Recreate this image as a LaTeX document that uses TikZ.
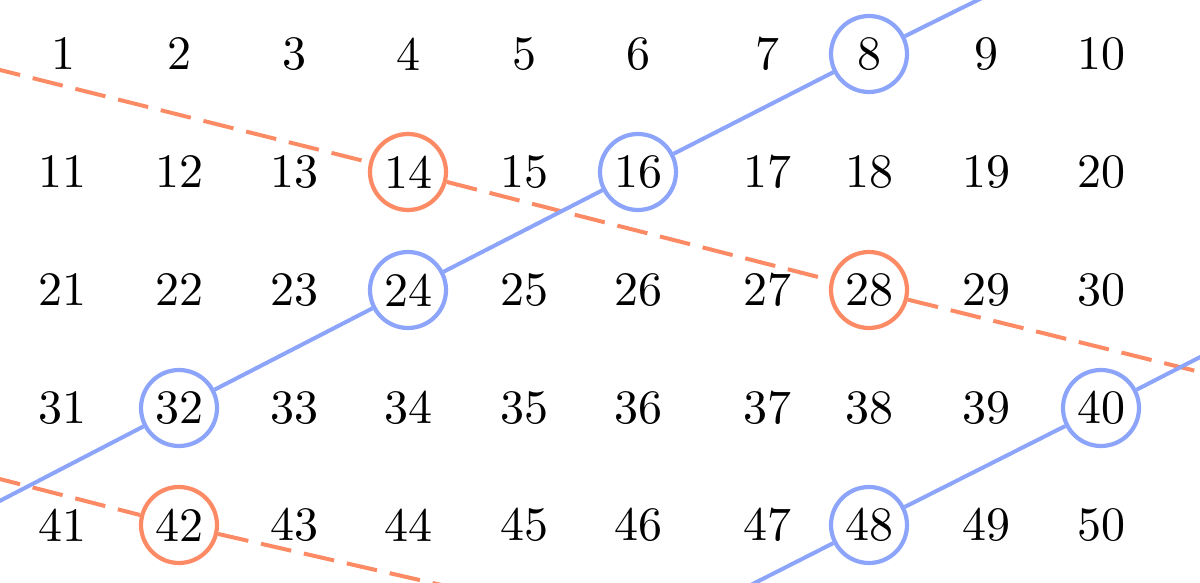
\documentclass[tikz,border=0pt]{standalone}
\definecolor{myblue}{RGB}{140,164,250}
\definecolor{myorange}{RGB}{252,138,100}
\font\numfont="[lmroman10-regular]" at 24pt
\begin{document}
\begin{tikzpicture}[x=0.5pt,y=-0.5pt,
  num/.style={inner sep=0pt, font=\numfont},
  ring/.style={num, circle, line width=2.1pt, minimum size=38pt, fill=white},
  bluering/.style={ring, draw=myblue},
  orangering/.style={ring, draw=myorange},
  blueline/.style={draw=myblue, line width=2pt},
  orangeline/.style={draw=myorange, line width=2pt, dash pattern=on 15.5pt off 6.5pt}]
\useasboundingbox (0,0) rectangle (1200,583);
\clip (0,0) rectangle (1200,583);
\foreach \r/\y in {0/54,1/172,2/290,3/408,4/525}{
  \foreach \c/\x in {1/63,2/179,3/294,4/408,5/524,6/638,7/767,8/869,9/986,10/1101}{
    \pgfmathtruncatemacro\n{10*\r+\c}
    \pgfmathtruncatemacro\isb{mod(\n,8)==0 ? 1 : 0}
    \pgfmathtruncatemacro\iso{mod(\n,14)==0 ? 1 : 0}
    \ifnum\isb=1
      \node[bluering] (n\n) at (\x,\y) {\n};
    \else
      \ifnum\iso=1
        \node[orangering] (n\n) at (\x,\y) {\n};
      \else
        \node[num] (n\n) at (\x,\y) {\n};
      \fi
    \fi
  }
}
% free ends
\coordinate (o1) at (-10,67.5);
\coordinate (o2) at (1210,374.5);
\coordinate (o3) at (-10,476.5);
\coordinate (o4) at (472,592);
\coordinate (e1) at (998,-10);
\coordinate (e2) at (-10,506);
\coordinate (e3) at (1210,352);
\coordinate (e4) at (735,593);
% orange dashed lines
\draw[orangeline] (o1) -- (n14) -- (n28) -- (o2);
\draw[orangeline] (o3) -- (n42) -- (o4);
% blue lines
\draw[blueline] (e1) -- (n8) -- (n16) -- (n24) -- (n32) -- (e2);
\draw[blueline] (e3) -- (n40) -- (n48) -- (e4);
\end{tikzpicture}
\end{document}
